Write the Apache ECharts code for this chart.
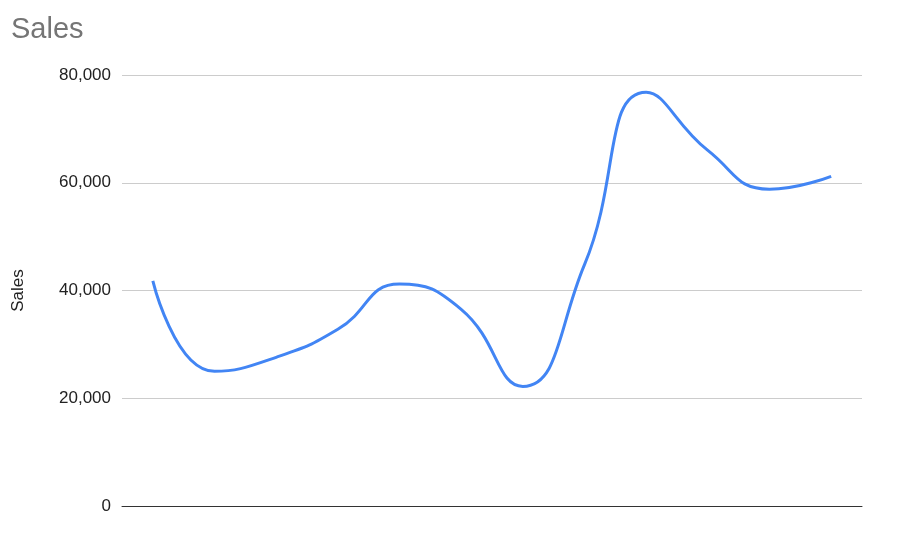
<!DOCTYPE html>
<html>
<head>
<meta charset="utf-8">
<script src="https://cdn.jsdelivr.net/npm/echarts@6/dist/echarts.min.js"></script>
<style>
  html, body { margin: 0; padding: 0; background: #fff; }
  #line { width: 900px; height: 534px; }
</style>
</head>
<body>
<div id="line"></div>
<script>
// 数据 (x 轴没有标签, 按顺序排列)
const categories = ['1', '2', '3', '4', '5', '6', '7', '8', '9', '10', '11', '12']
const sales = [41800, 25000, 27600, 32800, 41200, 36500, 22200, 44800, 76800, 66000, 58800, 61200]
const yTicks = [0, 20000, 40000, 60000, 80000]

let myChart = echarts.init(document.getElementById('line'))

let opt = {
  animation: false,
  textStyle: { fontFamily: 'Arial, Liberation Sans, sans-serif' },
  // 标题
  title: {
    text: 'Sales',
    left: 6,
    top: 10,
    textStyle: { fontSize: 29, fontWeight: 'normal', color: '#757575' }
  },
  grid: { left: 122, right: 38, top: 75, bottom: 28, outerBoundsMode: 'none' },
  // x轴
  xAxis: {
    type: 'category',
    boundaryGap: true,
    data: categories,
    axisLine: { lineStyle: { color: '#333', width: 1 } },
    axisTick: { show: false },
    axisLabel: { show: false }
  },
  // y轴
  yAxis: {
    type: 'value',
    min: yTicks[0],
    max: yTicks[yTicks.length - 1],
    interval: yTicks[1] - yTicks[0],
    name: 'Sales',
    nameLocation: 'middle',
    nameGap: 95,
    nameTextStyle: { fontSize: 17, color: '#222' },
    axisLine: { show: false },
    axisTick: { show: false },
    axisLabel: {
      fontSize: 17,
      color: '#222',
      margin: 11,
      formatter: v => v.toLocaleString('en-US')
    },
    splitLine: { lineStyle: { color: '#cccccc', width: 1 } }
  },
  series: [{
    name: 'Sales',
    type: 'line',
    data: sales,
    smooth: 0.5,
    showSymbol: false,
    lineStyle: { color: '#4285f4', width: 3 },
    itemStyle: { color: '#4285f4' }
  }]
}

myChart.setOption(opt)
</script>
</body>
</html>
